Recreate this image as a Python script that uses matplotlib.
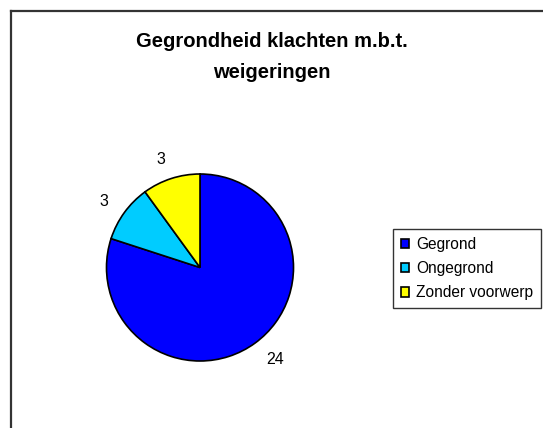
import matplotlib
matplotlib.use("Agg")
import matplotlib.pyplot as plt
from matplotlib.lines import Line2D

# gegevens
categorieen = ["Gegrond", "Ongegrond", "Zonder voorwerp"]
aantallen = [24, 3, 3]
kleuren = ["#0000FF", "#00CCFF", "#FFFF00"]
titel = "Gegrondheid klachten m.b.t.\nweigeringen"

plt.rcParams["font.family"] = ["Liberation Sans", "DejaVu Sans"]

W, H = 543, 428
fig = plt.figure(figsize=(W / 100, H / 100), dpi=100)

# kader (alleen links en boven zichtbaar)
fig.add_artist(Line2D([10.5 / W, 10.5 / W], [0, 1 - 10.5 / H], transform=fig.transFigure,
                      color="#333333", linewidth=1.6))
fig.add_artist(Line2D([10.5 / W, 1], [1 - 10.5 / H, 1 - 10.5 / H], transform=fig.transFigure,
                      color="#333333", linewidth=1.6))

# titel
fig.text(0.5, 1 - 32 / H, titel, ha="center", va="top", multialignment="center",
         fontsize=14.5, fontweight="bold", linespacing=1.8)

# taartdiagram
cx, cy, r = 200, 267.5, 93.5
ax = fig.add_axes([(cx - r) / W, (H - cy - r) / H, 2 * r / W, 2 * r / H])
wedges, teksten = ax.pie(aantallen, labels=[str(a) for a in aantallen], colors=kleuren,
                         startangle=90, counterclock=False, labeldistance=1.21,
                         wedgeprops=dict(edgecolor="black", linewidth=1.2),
                         textprops=dict(fontsize=11.5, color="black"))
ax.set_xlim(-1, 1)
ax.set_ylim(-1, 1)
ax.set_aspect("equal")
ax.axis("off")

# legenda
leg = fig.legend(wedges, categorieen, loc="upper left",
                 bbox_to_anchor=(393 / W, 1 - 229 / H), bbox_transform=fig.transFigure,
                 fontsize=11.2, handlelength=0.55, handleheight=0.55, handletextpad=0.45,
                 labelspacing=0.6, borderpad=0.5, borderaxespad=0, fancybox=False,
                 frameon=True, edgecolor="#333333", framealpha=1)
leg.get_frame().set_linewidth(1.0)
for h in leg.legend_handles:
    h.set_edgecolor("black")
    h.set_linewidth(1.2)

fig.savefig("out.png", dpi=100)
